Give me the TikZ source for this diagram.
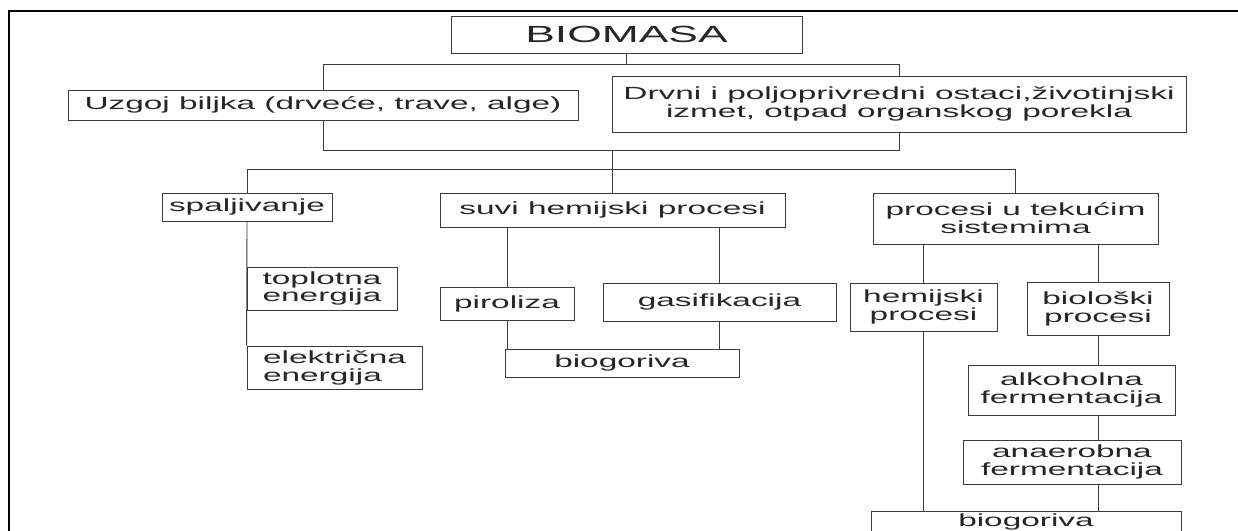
\documentclass[tikz,border=0pt]{standalone}
\usepackage{fontspec}
\setmainfont{Liberation Sans}[FakeStretch=1.9]
\definecolor{ink}{HTML}{262626}
\definecolor{rule}{HTML}{3A3A3A}

\begin{document}
\begin{tikzpicture}[x=0.2mm, y=-0.2mm,
    bmbox/.style={draw=rule, line width=0.5pt, inner sep=0.5mm, align=center,
                  text=ink, font=\fontsize{10}{10.2}\selectfont},
    bmleft/.style={bmbox, align=left},
    bmline/.style={draw=rule, line width=0.5pt},
    bmframe/.style={draw=black, line width=1.6pt}
  ]
    \useasboundingbox (0,0) rectangle (1238,531);
    \draw[bmframe] (9,531) -- (9,11) -- (1238,11);

    \node[bmbox, minimum width=70.2mm, minimum height=7.4mm,
          font=\fontsize{13.3}{14}\selectfont] (biomasa) at (626.5,34.5) {BIOMASA};
    \node[bmbox, minimum width=102mm, minimum height=6mm] (uzgoj) at (323,105)
      {Uzgoj biljka (drveće, trave, alge)};
    \node[bmbox, minimum width=114.8mm, minimum height=11.2mm] (drvni) at (899,104)
      {Drvni i poljoprivredni ostaci,životinjski\\izmet, otpad organskog porekla};

    \node[bmbox, minimum width=34mm, minimum height=5.6mm] (spalj) at (247,207) {spaljivanje};
    \node[bmbox, minimum width=69mm, minimum height=6.8mm] (suvi) at (612.5,210)
      {suvi hemijski procesi};
    \node[bmbox, minimum width=57mm, minimum height=10.2mm] (tekuci) at (1015.5,218.5)
      {procesi u tekućim\\sistemima};

    \node[bmleft, minimum width=30mm, minimum height=8.6mm] (toplot) at (322,288.5)
      {toplotna\\energija};
    \node[bmleft, minimum width=35mm, minimum height=8.6mm] (elektr) at (334.5,367.5)
      {električna\\energija};

    \node[bmbox, minimum width=26.8mm, minimum height=6.6mm] (piroliza) at (507,303.5) {piroliza};
    \node[bmbox, minimum width=46.6mm, minimum height=7.6mm] (gasif) at (719.5,302) {gasifikacija};
    \node[bmbox, minimum width=46.8mm, minimum height=5.6mm] (biogorA) at (622,363) {biogoriva};

    \node[bmbox, minimum width=29.4mm, minimum height=9.6mm] (hemij) at (923.5,307)
      {hemijski\\procesi};
    \node[bmbox, minimum width=28.4mm, minimum height=10.6mm] (biolos) at (1098,308.5)
      {biološki\\procesi};
    \node[bmbox, minimum width=41.4mm, minimum height=10mm] (alkoh) at (1071.5,390)
      {alkoholna\\fermentacija};
    \node[bmbox, minimum width=43.6mm, minimum height=8.8mm] (anaer) at (1072,462)
      {anaerobna\\fermentacija};
    % bottom box runs off the page, only its top with the label shows
    \node[bmbox, anchor=north, minimum width=62mm, text depth=8mm] (biogorB) at (1026,511)
      {biogoriva};

    \coordinate (busA) at (0,64);
    \coordinate (busB) at (0,150);
    \coordinate (busC) at (0,169);

    \draw[bmline] (biomasa.south) -- (biomasa.south |- busA);
    \draw[bmline] (uzgoj.north) -- (uzgoj.north |- busA) -| (drvni.north);
    \draw[bmline] (uzgoj.south) -- (uzgoj.south |- busB) -| (drvni.south);
    \draw[bmline] (suvi.north |- busB) -- (suvi.north);
    \draw[bmline] (spalj.north) -- (spalj.north |- busC) -| (tekuci.north);

    \draw[bmline] (spalj.south) -- (elektr.north west);

    \draw[bmline] (piroliza.north |- suvi.south) -- (piroliza.north);
    \draw[bmline] (gasif.north |- suvi.south) -- (gasif.north);
    \draw[bmline] (piroliza.south) -- (piroliza.south |- biogorA.north);
    \draw[bmline] (gasif.south) -- (gasif.south |- biogorA.north);

    \draw[bmline] (hemij.north |- tekuci.south) -- (hemij.north);
    \draw[bmline] (biolos.north |- tekuci.south) -- (biolos.north);
    \draw[bmline] (biolos.south) -- (biolos.south |- alkoh.north);
    \draw[bmline] (biolos.south |- alkoh.south) -- (biolos.south |- anaer.north);
    \draw[bmline] (biolos.south |- anaer.south) -- (biolos.south |- biogorB.north);
    \draw[bmline] (hemij.south) -- (hemij.south |- biogorB.north);
\end{tikzpicture}
\end{document}
